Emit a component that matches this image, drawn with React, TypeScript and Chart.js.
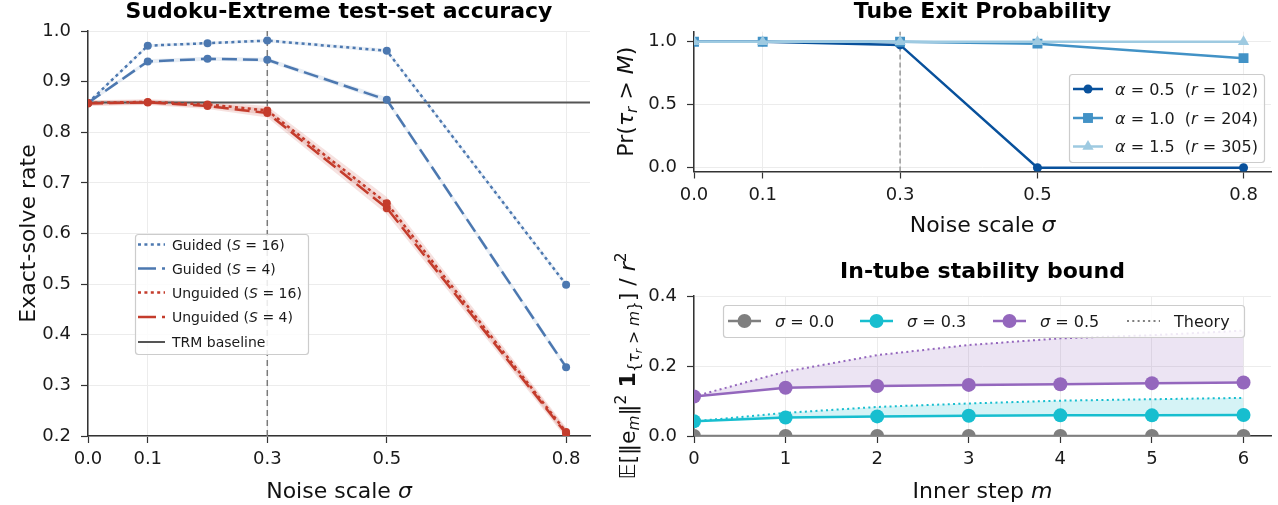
import React, { useEffect, useRef } from 'react';
import { Chart, registerables } from 'chart.js';
Chart.register(...registerables);

const FONT = '"DejaVu Sans", "Noto Sans", sans-serif';

// ---------------- Panel A: Sudoku-Extreme accuracy ----------------
const sigmaA = [0, 0.1, 0.2, 0.3, 0.5, 0.8];
const sigmaTicksA = [0, 0.1, 0.3, 0.5, 0.8];
const accTicks = [0.2, 0.3, 0.4, 0.5, 0.6, 0.7, 0.8, 0.9, 1.0];
const guided16 = [0.858, 0.971, 0.976, 0.981, 0.961, 0.499];
const guided16Lo = [0.855, 0.968, 0.973, 0.978, 0.957, 0.494];
const guided16Hi = [0.861, 0.974, 0.979, 0.984, 0.965, 0.504];
const guided4 = [0.858, 0.940, 0.945, 0.943, 0.864, 0.336];
const guided4Lo = [0.855, 0.936, 0.941, 0.939, 0.859, 0.330];
const guided4Hi = [0.861, 0.944, 0.949, 0.947, 0.869, 0.342];
const unguided16 = [0.858, 0.860, 0.855, 0.843, 0.660, 0.208];
const unguided16Lo = [0.853, 0.855, 0.849, 0.834, 0.648, 0.199];
const unguided16Hi = [0.863, 0.865, 0.861, 0.852, 0.672, 0.217];
const unguided4 = [0.857, 0.859, 0.852, 0.838, 0.650, 0.205];
const unguided4Lo = [0.852, 0.854, 0.846, 0.829, 0.638, 0.196];
const unguided4Hi = [0.862, 0.864, 0.858, 0.847, 0.662, 0.214];
const trmBaseline = 0.859;
const markSigma = 0.3;

// ---------------- Panel B: Tube exit probability ----------------
const sigmaB = [0, 0.1, 0.3, 0.5, 0.8];
const probTicks = [0, 0.5, 1.0];
const exitA05 = [1.0, 1.0, 0.975, 0.0, 0.0];
const exitA10 = [1.0, 1.0, 1.0, 0.985, 0.87];
const exitA15 = [1.0, 1.0, 1.0, 1.0, 1.0];

// ---------------- Panel C: In-tube stability bound ----------------
const steps = [0, 1, 2, 3, 4, 5, 6];
const stabTicks = [0, 0.2, 0.4];
const obsS00 = [0, 0, 0, 0, 0, 0, 0];
const obsS03 = [0.042, 0.053, 0.056, 0.058, 0.059, 0.059, 0.060];
const obsS05 = [0.113, 0.138, 0.143, 0.146, 0.148, 0.151, 0.153];
const theoryS03 = [0.042, 0.066, 0.083, 0.093, 0.101, 0.105, 0.109];
const theoryS05 = [0.113, 0.184, 0.231, 0.260, 0.279, 0.288, 0.301];

// ---------------- colours ----------------
const BLUE = '#4c78b0';
const RED = '#c43c2c';
const GRAY = '#555555';
const B1 = '#08519c';
const B2 = '#4292c6';
const B3 = '#9ecae1';
const CGRAY = '#7f7f7f';
const CYAN = '#17becf';
const PURPLE = '#9467bd';

type Seg = { t: string; it?: boolean; b?: boolean; sc?: number; dy?: number };

const fontOf = (size: number, s: Seg) =>
  `${s.it ? 'italic ' : ''}${s.b ? 'bold ' : ''}${(size * (s.sc || 1)).toFixed(2)}px ${FONT}`;

function richWidth(ctx: CanvasRenderingContext2D, segs: Seg[], size: number) {
  let w = 0;
  for (const s of segs) {
    ctx.font = fontOf(size, s);
    w += ctx.measureText(s.t).width;
  }
  return w;
}

function drawRich(ctx: CanvasRenderingContext2D, segs: Seg[], x: number, y: number, size: number, align: string, color: string) {
  const w = richWidth(ctx, segs, size);
  let cx = align === 'center' ? x - w / 2 : align === 'right' ? x - w : x;
  const base = y + size * 0.36;
  ctx.save();
  ctx.textBaseline = 'alphabetic';
  ctx.textAlign = 'left';
  ctx.fillStyle = color;
  for (const s of segs) {
    ctx.font = fontOf(size, s);
    ctx.fillText(s.t, cx, base + (s.dy || 0) * size);
    cx += ctx.measureText(s.t).width;
  }
  ctx.restore();
}

function drawMarker(ctx: CanvasRenderingContext2D, kind: string, x: number, y: number, r: number, color: string) {
  ctx.save();
  ctx.fillStyle = color;
  ctx.beginPath();
  if (kind === 'rect') {
    const h = r * Math.SQRT1_2;
    ctx.rect(x - h, y - h, 2 * h, 2 * h);
  } else if (kind === 'triangle') {
    let rad = 0;
    ctx.moveTo(x + Math.sin(rad) * r, y - Math.cos(rad) * r);
    rad += (2 * Math.PI) / 3;
    ctx.lineTo(x + Math.sin(rad) * r, y - Math.cos(rad) * r);
    rad += (2 * Math.PI) / 3;
    ctx.lineTo(x + Math.sin(rad) * r, y - Math.cos(rad) * r);
    ctx.closePath();
  } else {
    ctx.arc(x, y, r, 0, Math.PI * 2);
  }
  ctx.fill();
  ctx.restore();
}

type LegItem = { segs: Seg[]; color: string; lw: number; dash?: number[]; marker?: string; mr?: number; hx: number; hy: number };
type LegCfg = { box: number[]; items: LegItem[]; hlen: number; tgap: number; size: number };

function roundRect(ctx: CanvasRenderingContext2D, x: number, y: number, w: number, h: number, r: number) {
  ctx.beginPath();
  ctx.moveTo(x + r, y);
  ctx.lineTo(x + w - r, y);
  ctx.arcTo(x + w, y, x + w, y + r, r);
  ctx.lineTo(x + w, y + h - r);
  ctx.arcTo(x + w, y + h, x + w - r, y + h, r);
  ctx.lineTo(x + r, y + h);
  ctx.arcTo(x, y + h, x, y + h - r, r);
  ctx.lineTo(x, y + r);
  ctx.arcTo(x, y, x + r, y, r);
  ctx.closePath();
}

function drawLegend(ctx: CanvasRenderingContext2D, L: LegCfg) {
  const [bx, by, bw, bh] = L.box;
  ctx.save();
  roundRect(ctx, bx + 0.5, by + 0.5, bw, bh, 3);
  ctx.fillStyle = 'rgba(255,255,255,0.85)';
  ctx.fill();
  ctx.strokeStyle = '#cccccc';
  ctx.lineWidth = 1.2;
  ctx.stroke();
  for (const it of L.items) {
    ctx.save();
    ctx.strokeStyle = it.color;
    ctx.lineWidth = it.lw;
    ctx.lineCap = 'butt';
    ctx.setLineDash(it.dash || []);
    ctx.beginPath();
    ctx.moveTo(it.hx, it.hy);
    ctx.lineTo(it.hx + L.hlen, it.hy);
    ctx.stroke();
    ctx.restore();
    if (it.marker) drawMarker(ctx, it.marker, it.hx + L.hlen / 2, it.hy, it.mr || 4, it.color);
    drawRich(ctx, it.segs, it.hx + L.hlen + L.tgap, it.hy, L.size, 'left', '#1a1a1a');
  }
  ctx.restore();
}

type Decor = {
  vline?: { x: number; color: string; dash: number[]; lw: number };
  xTitle: { segs: Seg[]; y: number };
  yTitle: { segs: Seg[]; x: number };
  legend?: LegCfg;
};

const LABEL_SIZE = 22;
const TICK_SIZE = 18;
const TITLE_SIZE = 22;

function makeDecor(cfg: Decor) {
  return {
    id: 'decor',
    beforeDatasetsDraw(chart: any) {
      if (!cfg.vline) return;
      const { ctx, chartArea: a, scales } = chart;
      const px = scales.x.getPixelForValue(cfg.vline.x);
      ctx.save();
      ctx.strokeStyle = cfg.vline.color;
      ctx.lineWidth = cfg.vline.lw;
      ctx.setLineDash(cfg.vline.dash);
      ctx.beginPath();
      ctx.moveTo(px, a.bottom);
      ctx.lineTo(px, a.top);
      ctx.stroke();
      ctx.restore();
    },
    afterDraw(chart: any) {
      const { ctx, chartArea: a } = chart;
      drawRich(ctx, cfg.xTitle.segs, (a.left + a.right) / 2, cfg.xTitle.y, LABEL_SIZE, 'center', '#111');
      ctx.save();
      ctx.translate(cfg.yTitle.x, (a.top + a.bottom) / 2);
      ctx.rotate(-Math.PI / 2);
      drawRich(ctx, cfg.yTitle.segs, 0, 0, LABEL_SIZE, 'center', '#111');
      ctx.restore();
      if (cfg.legend) drawLegend(ctx, cfg.legend);
    },
  };
}

function linAxis(min: number, max: number, ticks: number[], fit: { w?: number; h?: number }, fmt: (v: number) => string, pad: number) {
  return {
    type: 'linear',
    min,
    max,
    afterBuildTicks: (s: any) => {
      s.ticks = ticks.map((v) => ({ value: v }));
    },
    afterFit: (s: any) => {
      if (fit.w != null) s.width = fit.w;
      if (fit.h != null) s.height = fit.h;
    },
    ticks: {
      callback: (v: any) => fmt(Number(v)),
      font: { family: FONT, size: TICK_SIZE },
      color: '#1a1a1a',
      padding: pad,
      maxRotation: 0,
      autoSkip: false,
    },
    grid: { color: '#ececec', lineWidth: 1, tickLength: 7, tickColor: '#333', tickWidth: 1.2 },
    border: { color: '#333', width: 1.5 },
    title: { display: false },
  };
}

const f1 = (v: number) => v.toFixed(1);
const f0 = (v: number) => String(Math.round(v));
const pts = (xs: number[], ys: number[]) => xs.map((x, i) => ({ x, y: ys[i] }));

function lineDs(xs: number[], ys: number[], color: string, o: any) {
  return {
    data: pts(xs, ys),
    borderColor: color,
    backgroundColor: color,
    borderWidth: o.lw ?? 2.2,
    borderDash: o.dash || [],
    borderCapStyle: 'butt',
    pointRadius: o.r ?? 0,
    pointStyle: o.ps || 'circle',
    pointBackgroundColor: color,
    pointBorderColor: color,
    pointBorderWidth: 0,
    fill: o.fill ?? false,
    tension: 0,
    order: o.order ?? 1,
  };
}

function bandDs(xs: number[], ys: number[], color: string, fillTo: number | false) {
  return {
    data: pts(xs, ys),
    borderWidth: 0,
    borderColor: 'rgba(0,0,0,0)',
    backgroundColor: color,
    pointRadius: 0,
    fill: fillTo === false ? false : { target: fillTo },
    tension: 0,
    order: 50,
  };
}

const commonOpts = (title: string, tpad: { top: number; bottom: number }, padRight: number, scales: any) => ({
  responsive: false,
  animation: false,
  devicePixelRatio: 1,
  events: [],
  layout: { padding: { left: 0, right: padRight, top: 0, bottom: 0 } },
  plugins: {
    legend: { display: false },
    tooltip: { enabled: false },
    title: {
      display: true,
      text: title,
      fullSize: false,
      color: '#000',
      font: { family: FONT, size: TITLE_SIZE, weight: 'bold', lineHeight: 1.1 },
      padding: tpad,
    },
  },
  scales,
});

const S = (t: string, o: Partial<Seg> = {}): Seg => ({ t, ...o });

function configA() {
  const bandBlue = 'rgba(76,120,176,0.13)';
  const bandRed = 'rgba(196,60,44,0.15)';
  const datasets: any[] = [
    bandDs(sigmaA, guided16Lo, bandBlue, false),
    bandDs(sigmaA, guided16Hi, bandBlue, 0),
    bandDs(sigmaA, guided4Lo, bandBlue, false),
    bandDs(sigmaA, guided4Hi, bandBlue, 2),
    bandDs(sigmaA, unguided16Lo, bandRed, false),
    bandDs(sigmaA, unguided16Hi, bandRed, 4),
    bandDs(sigmaA, unguided4Lo, bandRed, false),
    bandDs(sigmaA, unguided4Hi, bandRed, 6),
    lineDs([0, 0.84], [trmBaseline, trmBaseline], GRAY, { lw: 2, order: 40 }),
    lineDs(sigmaA, guided16, BLUE, { lw: 2.5, dash: [3, 3.4], r: 4, order: 4 }),
    lineDs(sigmaA, guided4, BLUE, { lw: 2.5, dash: [15, 6], r: 4, order: 3 }),
    lineDs(sigmaA, unguided16, RED, { lw: 2.5, dash: [3, 3.4], r: 4, order: 1 }),
    lineDs(sigmaA, unguided4, RED, { lw: 2.5, dash: [15, 6], r: 4, order: 2 }),
  ];
  const rows = [244.5, 268.5, 292.5, 317, 342];
  const legend: LegCfg = {
    box: [135, 234, 173, 120],
    hlen: 27,
    tgap: 7,
    size: 14,
    items: [
      { segs: [S('Guided ('), S('S', { it: true }), S(' = 16)')], color: BLUE, lw: 2.5, dash: [3, 3.4], hx: 138, hy: rows[0] },
      { segs: [S('Guided ('), S('S', { it: true }), S(' = 4)')], color: BLUE, lw: 2.5, dash: [18, 6], hx: 138, hy: rows[1] },
      { segs: [S('Unguided ('), S('S', { it: true }), S(' = 16)')], color: RED, lw: 2.5, dash: [3, 3.4], hx: 138, hy: rows[2] },
      { segs: [S('Unguided ('), S('S', { it: true }), S(' = 4)')], color: RED, lw: 2.5, dash: [18, 6], hx: 138, hy: rows[3] },
      { segs: [S('TRM baseline')], color: GRAY, lw: 2, hx: 138, hy: rows[4] },
    ],
  };
  return {
    type: 'line',
    data: { datasets },
    options: commonOpts('Sudoku-Extreme test-set accuracy', { top: 0, bottom: 6.8 }, 14, {
      x: linAxis(0, 0.84, sigmaTicksA, { h: 69 }, f1, 6),
      y: linAxis(0.2, 1.0, accTicks, { w: 88 }, f1, 10),
    }),
    plugins: [
      makeDecor({
        vline: { x: markSigma, color: '#7a7a7a', dash: [6, 4], lw: 1.5 },
        xTitle: { segs: [S('Noise scale '), S('σ', { it: true })], y: 490 },
        yTitle: { segs: [S('Exact-solve rate')], x: 27 },
        legend,
      }),
    ],
  };
}

function configB() {
  const datasets: any[] = [
    lineDs(sigmaB, exitA15, B3, { lw: 2.5, r: 6.5, ps: 'triangle', order: 1 }),
    lineDs(sigmaB, exitA10, B2, { lw: 2.5, r: 7, ps: 'rect', order: 2 }),
    lineDs(sigmaB, exitA05, B1, { lw: 2.5, r: 4.5, ps: 'circle', order: 3 }),
  ];
  const rows = [89, 118, 146.5];
  const legend: LegCfg = {
    box: [459, 74, 195, 88],
    hlen: 30,
    tgap: 12,
    size: 16,
    items: [
      { segs: [S('α', { it: true }), S(' = 0.5  ('), S('r', { it: true }), S(' = 102)')], color: B1, lw: 2.5, marker: 'circle', mr: 4.5, hx: 463, hy: rows[0] },
      { segs: [S('α', { it: true }), S(' = 1.0  ('), S('r', { it: true }), S(' = 204)')], color: B2, lw: 2.5, marker: 'rect', mr: 7, hx: 463, hy: rows[1] },
      { segs: [S('α', { it: true }), S(' = 1.5  ('), S('r', { it: true }), S(' = 305)')], color: B3, lw: 2.5, marker: 'triangle', mr: 6.5, hx: 463, hy: rows[2] },
    ],
  };
  return {
    type: 'line',
    data: { datasets },
    options: commonOpts('Tube Exit Probability', { top: 0, bottom: 7.5 }, 6, {
      x: linAxis(0, 0.84, sigmaTicksA, { h: 73.5 }, f1, 6),
      y: linAxis(-0.03, 1.08, probTicks, { w: 84 }, f1, 10),
    }),
    plugins: [
      makeDecor({
        vline: { x: markSigma, color: '#8a8a8a', dash: [5, 3], lw: 1.3 },
        xTitle: { segs: [S('Noise scale '), S('σ', { it: true })], y: 224 },
        yTitle: {
          segs: [S('Pr('), S('τ', { it: true }), S('r', { it: true, sc: 0.7, dy: 0.18 }), S(' > '), S('M', { it: true }), S(')')],
          x: 15,
        },
        legend,
      }),
    ],
  };
}

function configC() {
  const datasets: any[] = [
    lineDs(steps, obsS00, CGRAY, { lw: 2.5, r: 7, order: 3 }),
    lineDs(steps, obsS03, CYAN, { lw: 2.5, r: 7, order: 2 }),
    lineDs(steps, obsS05, PURPLE, { lw: 2.5, r: 7, order: 1 }),
    { ...lineDs(steps, theoryS03, CYAN, { lw: 2, dash: [2, 3.3], order: 10 }), fill: { target: 1 }, backgroundColor: 'rgba(23,190,207,0.18)' },
    { ...lineDs(steps, theoryS05, PURPLE, { lw: 2, dash: [2, 3.3], order: 10 }), fill: { target: 2 }, backgroundColor: 'rgba(148,103,189,0.18)' },
  ];
  const hy = 71;
  const legend: LegCfg = {
    box: [113, 55, 521, 32],
    hlen: 33,
    tgap: 14,
    size: 16,
    items: [
      { segs: [S('σ', { it: true }), S(' = 0.0')], color: CGRAY, lw: 2.5, marker: 'circle', mr: 7, hx: 118, hy },
      { segs: [S('σ', { it: true }), S(' = 0.3')], color: CYAN, lw: 2.5, marker: 'circle', mr: 7, hx: 250, hy },
      { segs: [S('σ', { it: true }), S(' = 0.5')], color: PURPLE, lw: 2.5, marker: 'circle', mr: 7, hx: 383, hy },
      { segs: [S('Theory')], color: CGRAY, lw: 2, dash: [2, 3.3], hx: 517, hy },
    ],
  };
  const sub = { sc: 0.7, dy: 0.2 };
  return {
    type: 'line',
    data: { datasets },
    options: commonOpts('In-tube stability bound', { top: 9.9, bottom: 11.9 }, 6, {
      x: linAxis(0, 6.3, steps, { h: 69 }, f0, 6),
      y: linAxis(0, 0.4, stabTicks, { w: 84 }, f1, 10),
    }),
    plugins: [
      makeDecor({
        xTitle: { segs: [S('Inner step '), S('m', { it: true })], y: 240 },
        yTitle: {
          segs: [
            S('𝔼'), S('[‖e'), S('m', { it: true, ...sub }), S('‖'), S('2', { sc: 0.7, dy: -0.42 }), S(' '),
            S('1', { b: true }), S('{', sub), S('τ', { it: true, ...sub }), S('r', { it: true, sc: 0.5, dy: 0.3 }),
            S(' > ', sub), S('m', { it: true, ...sub }), S('}', sub), S('] / '), S('r', { it: true }), S('2', { sc: 0.7, dy: -0.42 }),
          ],
          x: 17,
        },
        legend,
      }),
    ],
  };
}

function ChartBox(props: { make: () => any; left: number; top: number; width: number; height: number }) {
  const ref = useRef<HTMLCanvasElement>(null);
  useEffect(() => {
    const chart = new Chart(ref.current as HTMLCanvasElement, props.make());
    return () => chart.destroy();
  }, []);
  return (
    <canvas
      ref={ref}
      width={props.width}
      height={props.height}
      style={{ position: 'absolute', left: props.left, top: props.top, width: props.width, height: props.height }}
    />
  );
}

export default function App() {
  return (
    <div style={{ position: 'fixed', left: 0, top: 0, width: 1278, height: 505, background: '#fff', overflow: 'hidden' }}>
      <ChartBox make={configA} left={0} top={0} width={604} height={505} />
      <ChartBox make={configB} left={610} top={0} width={668} height={245} />
      <ChartBox make={configC} left={610} top={250} width={668} height={255} />
    </div>
  );
}
